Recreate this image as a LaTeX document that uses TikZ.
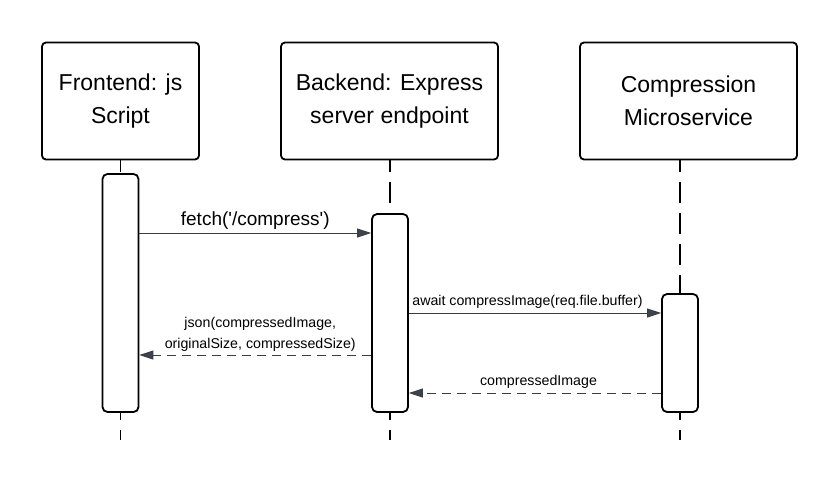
\documentclass[tikz,border=0pt]{standalone}
\usepackage{fontspec}
\setmainfont{Liberation Sans}
\usetikzlibrary{arrows.meta}
\definecolor{msggray}{RGB}{60,60,64}
\definecolor{tipgray}{RGB}{62,67,80}

\begin{document}
\begin{tikzpicture}[x=1pt, y=-1pt,
		>={Triangle[length=14pt, width=9pt, fill=tipgray]},   %Pfeilspitzen
		actor/.style={draw, line width=1.8pt, rounded corners=4pt, fill=white, align=center,
			minimum height=117pt, inner sep=0pt, font=\fontsize{23}{33}\selectfont},
		bar/.style={draw, line width=1.8pt, rounded corners=5pt, fill=white, minimum width=36pt, inner sep=0pt},
		lifeline/.style={line width=1.8pt, dash pattern=on 21pt off 10pt, dash phase=9pt},
		msg/.style={->, draw=msggray, line width=0.9pt},
		reply/.style={msg, dash pattern=on 9pt off 6pt},
		msglabel/.style={anchor=base, yshift=7.5pt, inner sep=0pt, text=black, font=\fontsize{14.2}{21}\selectfont}]
	\useasboundingbox (0,0) rectangle (837,480);
	% Teilnehmer
	\node[actor, minimum width=157pt] (fe) at (120.5,101) {Frontend: js\\Script};
	\node[actor, minimum width=217pt] (be) at (389.5,101) {Backend: Express\\server endpoint};
	\node[actor, minimum width=217pt] (ms) at (688.5,101) {Compression\\Microservice};
	% Lebenslinien
	\coordinate (feend) at (120.5,440);
	\coordinate (beend) at (390,440);
	\coordinate (msend) at (680,440);
	\draw[lifeline] (fe.south -| feend) -- (feend);
	\draw[lifeline] (be.south -| beend) -- (beend);
	\draw[lifeline] (ms.south -| msend) -- (msend);
	% Aktivierungsbalken
	\node[bar, minimum height=238pt] (febar) at (120.5,293) {};
	\node[bar, minimum height=198pt] (bebar) at (390,313) {};
	\node[bar, minimum height=118pt] (msbar) at (680,353) {};
	% Nachrichten
	\draw[msg] (febar.east |- 0,233) -- node[msglabel, font=\fontsize{19}{21}\selectfont] {fetch(\textquotesingle/compress\textquotesingle)} (bebar.west |- 0,233);
	\draw[msg] (bebar.east |- 0,313) -- node[msglabel, xshift=-7.5pt] {await compressImage(req.file.buffer)} (msbar.west |- 0,313);
	\draw[reply] (bebar.west |- 0,355) -- node[msglabel, anchor=south, yshift=-4.5pt, xshift=5pt, align=center] {json(compressedImage,\\originalSize, compressedSize)} (febar.east |- 0,355);
	\draw[reply] (msbar.west |- 0,393) -- node[msglabel, xshift=3.5pt] {compressedImage} (bebar.east |- 0,393);
\end{tikzpicture}
\end{document}
